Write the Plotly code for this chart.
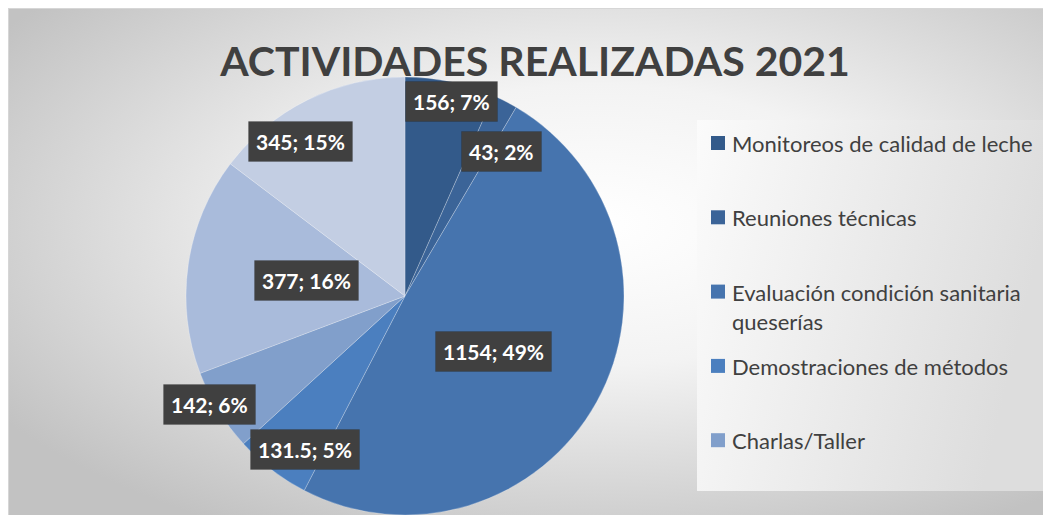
import math
import base64
import plotly.graph_objects as go

# ---------------- data ----------------
title_text = "ACTIVIDADES REALIZADAS 2021"
categories = [
    "Monitoreos de calidad de leche",
    "Reuniones técnicas",
    "Evaluación condición sanitaria queserías",
    "Demostraciones de métodos",
    "Charlas/Taller",
    "Visitas técnicas",
    "Otras actividades",
]
values = [156, 43, 1154, 131.5, 142, 377, 345]
pct_labels = ["7%", "2%", "49%", "5%", "6%", "16%", "15%"]
legend_labels = [
    "Monitoreos de calidad de leche",
    "Reuniones técnicas",
    "Evaluación condición sanitaria<br>queserías",
    "Demostraciones de métodos",
    "Charlas/Taller",
]

# ---------------- style ----------------
colors = ["#335a8a", "#3b6498", "#4674ae", "#4b7fbf", "#819fcb", "#a9bbdb", "#c3cee3"]
label_rfrac = [0.913, 0.795, 0.475, 0.836, 1.02, 0.457, 0.854]
label_dang = [1.5, 6.6, 3.1, -4.5, 2.6, 0.4, -7.6]

W, H = 1051, 515
OFF = 8  # page body margin
# layout targets in page pixels
CX, CY, R = 405, 296, 219

def px_to_paper(x, y):
    return (x - OFF) / W, 1 - (y - OFF) / H

svg = f"""<svg xmlns='http://www.w3.org/2000/svg' width='{W}' height='{H}' viewBox='0 0 {W} {H}'>
<defs>
<radialGradient id='g' cx='0.56' cy='0.42' r='0.68'>
<stop offset='0' stop-color='#ffffff'/>
<stop offset='0.4' stop-color='#f3f3f3'/>
<stop offset='1' stop-color='#c2c2c2'/>
</radialGradient>
<linearGradient id='l' x1='0' y1='0' x2='1' y2='0.25'>
<stop offset='0' stop-color='#fbfbfb'/>
<stop offset='1' stop-color='#dddddd'/>
</linearGradient>
</defs>
<rect x='0.5' y='0.5' width='{W}' height='{H}' fill='url(#g)' stroke='#d6d6d6'/>
<rect x='{697 - OFF}' y='{120 - OFF}' width='351' height='371' fill='url(#l)'/>
</svg>"""
svg_uri = "data:image/svg+xml;base64," + base64.b64encode(svg.encode("utf-8")).decode("ascii")

dx0, dy1 = px_to_paper(CX - R, CY - R)
dx1, dy0 = px_to_paper(CX + R, CY + R)

fig = go.Figure()
fig.add_trace(go.Pie(
    labels=categories,
    values=values,
    sort=False,
    direction="clockwise",
    rotation=0,
    marker=dict(colors=colors, line=dict(color="rgba(255,255,255,0.3)", width=0.8)),
    textinfo="none",
    hovertemplate="%{label}: %{value}<extra></extra>",
    showlegend=False,
    domain=dict(x=[dx0, dx1], y=[dy0, dy1]),
))

annotations = []
shapes = []

# data labels (positions derived from the slice angles)
total = sum(values)
cum = 0.0
for i, v in enumerate(values):
    mid = (cum + v / 2) / total * 360.0
    cum += v
    a = math.radians(mid + label_dang[i])
    r = R * label_rfrac[i]
    px = CX + r * math.sin(a)
    py = CY - r * math.cos(a)
    x, y = px_to_paper(px, py)
    txt = f"{v:g}; {pct_labels[i]}"
    annotations.append(dict(
        x=x, y=y, xref="paper", yref="paper", text=txt, showarrow=False,
        xanchor="center", yanchor="middle",
        font=dict(family="Lato", size=21, color="#ffffff", weight="bold"),
        bgcolor="#404040", borderpad=7,
        bordercolor="rgba(0,0,0,0.12)", borderwidth=1,
    ))

# legend (first five entries, as visible in the original)
leg_x0, leg_y0, leg_dy, sq = 711, 143, 74.3, 14
for i, name in enumerate(legend_labels):
    cy = leg_y0 + i * leg_dy
    x0, y0 = px_to_paper(leg_x0, cy - sq / 2)
    x1, y1 = px_to_paper(leg_x0 + sq, cy + sq / 2)
    shapes.append(dict(type="rect", xref="paper", yref="paper", x0=x0, x1=x1, y0=y1, y1=y0,
                       fillcolor=colors[i], line=dict(width=0)))
    tx, ty = px_to_paper(leg_x0 + 20, cy - 14)
    annotations.append(dict(
        x=tx, y=ty, xref="paper", yref="paper", text=name, showarrow=False,
        xanchor="left", yanchor="top", align="left", borderpad=0,
        font=dict(family="Lato", size=22, color="#404040"),
    ))

tx, ty = px_to_paper(535, 62)
fig.update_layout(
    width=W, height=H,
    margin=dict(l=0, r=0, t=0, b=0),
    paper_bgcolor="#ffffff",
    plot_bgcolor="rgba(0,0,0,0)",
    title=dict(text=title_text, x=tx, y=ty, xanchor="center", yanchor="middle",
               xref="paper", yref="paper",
               font=dict(family="Lato", size=41, color="#404040", weight="bold")),
    images=[dict(source=svg_uri, xref="paper", yref="paper", x=0, y=1, sizex=1, sizey=1,
                 xanchor="left", yanchor="top", sizing="stretch", layer="below")],
    annotations=annotations,
    shapes=shapes,
)

fig.write_html("out.html")
